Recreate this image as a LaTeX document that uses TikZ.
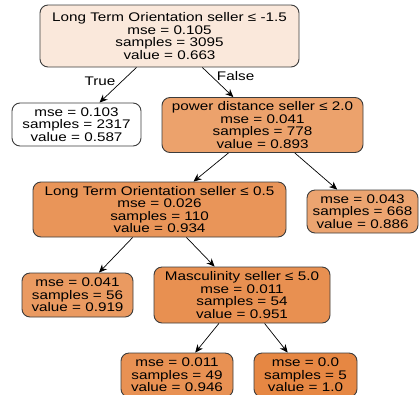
\documentclass[tikz,border=0pt]{standalone}
\usepackage{fontspec}
\setmainfont[FakeStretch=1.22]{Liberation Sans}
\usepackage{xcolor}
\usetikzlibrary{arrows.meta,positioning}

\definecolor{treeorange}{HTML}{E58139}
\definecolor{treeborder}{HTML}{3C3C3C}

\begin{document}
\begin{tikzpicture}[
  x=1pt, y=-1pt,
  every node/.style={font=\fontsize{12.5}{12.4}\selectfont},
  split/.style={draw=treeborder, line width=0.9pt, rounded corners=8pt,
    align=center, inner sep=0pt},
  arrow/.style={-{Stealth[length=8pt,width=7pt]}, line width=0.7pt}
]
\useasboundingbox (0,0) rectangle (419,394);
\clip (0,0) rectangle (419,394);

% Root
\node[split, fill=treeorange!18, minimum width=259, minimum height=62] (root) at (169.5,36)
  {Long Term Orientation seller ≤ -1.5\\mse = 0.105\\samples = 3095\\value = 0.663};

% Level 1
\node[split, fill=white, minimum width=129, minimum height=43] (leafT) at (76.5,124.5)
  {mse = 0.103\\samples = 2317\\value = 0.587};
\node[split, fill=treeorange!74, minimum width=201, minimum height=55] (power) at (262.5,125)
  {power distance seller ≤ 2.0\\mse = 0.041\\samples = 778\\value = 0.893};

% Level 2
\node[split, fill=treeorange!84, minimum width=253, minimum height=55] (ltoB) at (159.5,209.5)
  {Long Term Orientation seller ≤ 0.5\\mse = 0.026\\samples = 110\\value = 0.934};
\node[split, fill=treeorange!72, minimum width=111, minimum height=43] (leafP) at (362.5,211.5)
  {mse = 0.043\\samples = 668\\value = 0.886};

% Level 3
\node[split, fill=treeorange!80, minimum width=111, minimum height=44] (leafL) at (77.5,295)
  {mse = 0.041\\samples = 56\\value = 0.919};
\node[split, fill=treeorange!88, minimum width=176, minimum height=56] (masc) at (242,295)
  {Masculinity seller ≤ 5.0\\mse = 0.011\\samples = 54\\value = 0.951};

% Level 4
\node[split, fill=treeorange!87, minimum width=112, minimum height=44] (leafM) at (177,375)
  {mse = 0.011\\samples = 49\\value = 0.946};
\node[split, fill=treeorange!95, minimum width=103, minimum height=44] (leafF) at (305.5,375)
  {mse = 0.0\\samples = 5\\value = 1.0};

% Edges
\draw[arrow] (root) -- (leafT) node[pos=0.4, left=6pt, inner sep=0pt] {True};
\draw[arrow] (root) -- (power) node[pos=0.3, right=5pt, inner sep=0pt] {False};
\draw[arrow] (power) -- (ltoB);
\draw[arrow] (power) -- (leafP);
\draw[arrow] (ltoB) -- (leafL);
\draw[arrow] (ltoB) -- (masc);
\draw[arrow] (masc) -- (leafM);
\draw[arrow] (masc) -- (leafF);

\end{tikzpicture}
\end{document}
